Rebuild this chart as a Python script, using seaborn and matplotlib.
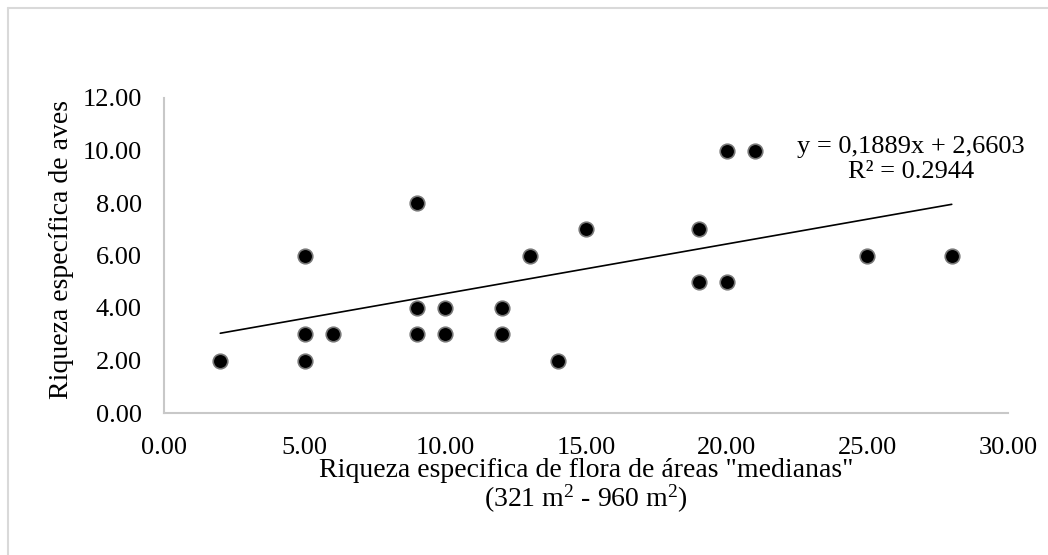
import numpy as np
import pandas as pd
import matplotlib
matplotlib.use("Agg")
import matplotlib.pyplot as plt
import seaborn as sns

# Data
flora = [2, 5, 5, 5, 6, 9, 9, 9, 10, 10, 12, 12, 13, 14, 15, 19, 19, 20, 20, 21, 25, 28]
aves = [2, 6, 3, 2, 3, 8, 4, 3, 4, 3, 4, 3, 6, 2, 7, 7, 5, 10, 5, 10, 6, 6]
slope = 0.1889
intercept = 2.6603
r2 = 0.2944
x_ticks = [0, 5, 10, 15, 20, 25, 30]
y_ticks = [0, 2, 4, 6, 8, 10, 12]

df = pd.DataFrame({"flora": flora, "aves": aves})

sns.set_theme(style="white")
plt.rcParams['font.family'] = ['Liberation Serif', 'DejaVu Serif']
plt.rcParams['mathtext.fontset'] = 'custom'
plt.rcParams['mathtext.rm'] = 'Liberation Serif'
plt.rcParams['mathtext.it'] = 'Liberation Serif'

fig = plt.figure(figsize=(10.48, 5.55), dpi=100)
ax = fig.add_axes([164 / 1048, 1 - 413 / 555, (1008 - 164) / 1048, (413 - 98) / 555])

# Figure border (top and left only, as in the reference crop)
border_col = "#d9d9d9"
fig.add_artist(plt.Line2D([8 / 1048, 8 / 1048], [0, 1 - 7.5 / 555], transform=fig.transFigure,
                          color=border_col, lw=1.5))
fig.add_artist(plt.Line2D([8 / 1048, 1], [1 - 7.5 / 555, 1 - 7.5 / 555], transform=fig.transFigure,
                          color=border_col, lw=1.5))

# Trend line
xl = np.array([min(flora), max(flora)], dtype=float)
ax.plot(xl, slope * xl + intercept, color="black", lw=1.2, zorder=2)

sns.scatterplot(data=df, x="flora", y="aves", ax=ax, s=110, color="black",
                edgecolor="#777777", linewidth=1.2, zorder=3, legend=False)

ax.set_xlim(0, 30)
ax.set_ylim(0, 12)
ax.set_xticks(x_ticks)
ax.set_yticks(y_ticks)
ax.set_xticklabels([f"{v:.2f}" for v in x_ticks])
ax.set_yticklabels([f"{v:.2f}" for v in y_ticks])
ax.tick_params(axis="both", length=0, labelsize=19, colors="black")
ax.tick_params(axis="x", pad=17.5)
ax.tick_params(axis="y", pad=16)

for s in ["top", "right"]:
    ax.spines[s].set_visible(False)
for s in ["left", "bottom"]:
    ax.spines[s].set_color("#c8c8c8")
    ax.spines[s].set_linewidth(1.5)

ax.set_ylabel("Riqueza específica de aves", fontsize=20, color="black")
ax.yaxis.set_label_coords(-(164 - 74) / 844, (413 - 250) / 315)
ax.set_xlabel('Riqueza especifica de flora de áreas "medianas"\n(321 m$^{2}$ - 960 m$^{2}$)',
              fontsize=20, color="black", linespacing=1.0)
ax.xaxis.set_label_coords(0.5, -(458 - 413) / 315)

eq = f"y = {slope:.4f}x + {intercept:.4f}".replace(".", ",")
ax.text(911 / 1048, 1 - 147 / 555, eq, transform=fig.transFigure, ha="center", va="center",
        fontsize=19, color="black")
ax.text(911 / 1048, 1 - 172 / 555, f"R² = {r2:.4f}", transform=fig.transFigure, ha="center",
        va="center", fontsize=19, color="black")

fig.savefig("out.png", dpi=100, facecolor="white")
